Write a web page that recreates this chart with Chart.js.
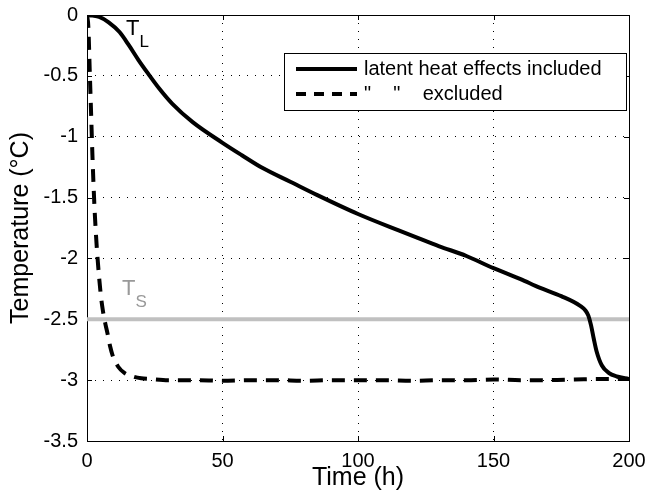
<!DOCTYPE html>
<html>
<head>
<meta charset="utf-8">
<script src="https://cdn.jsdelivr.net/npm/chart.js@4.4.0/dist/chart.umd.min.js"></script>
<style>
body { margin: 0; background: #fff; }
</style>
</head>
<body>
<canvas id="chart" width="646" height="502"></canvas>
<script>
// time (h) and temperature (°C)
var timeIncluded = [0, 2, 4.5, 8, 12, 15.5, 19, 22.5, 26.5, 31.5, 39, 50, 57, 65, 75, 85, 100, 115, 130, 140, 150, 160, 167, 175, 182, 184, 185, 186, 187, 188, 190, 192.5, 195.5, 200];
var tempIncluded = [0, -0.005, -0.016, -0.06, -0.14, -0.25, -0.37, -0.48, -0.6, -0.73, -0.88, -1.05, -1.15, -1.26, -1.37, -1.48, -1.635, -1.77, -1.9, -1.98, -2.08, -2.17, -2.24, -2.31, -2.39, -2.43, -2.47, -2.55, -2.66, -2.76, -2.88, -2.94, -2.97, -2.99];

var timeExcluded = [0, 0.5, 1, 1.5, 2, 2.7, 3.3, 3.9, 5, 5.8, 6.7, 7.6, 8.5, 9.5, 11.5, 13.8, 17, 20, 23, 30, 40, 50, 60, 70, 80, 90, 100, 110, 120, 130, 140, 150, 160, 170, 180, 190, 200];
var tempExcluded = [0, -0.1, -0.45, -0.8, -1.15, -1.55, -1.8, -2.0, -2.28, -2.42, -2.53, -2.62, -2.72, -2.8, -2.89, -2.94, -2.97, -2.985, -2.99, -3.0, -3.0, -3.005, -3.0, -3.0, -3.005, -3.0, -3.0, -3.0, -3.005, -3.0, -3.0, -2.995, -3.0, -3.0, -2.995, -2.99, -2.99];

var timeSolidus = [0, 200];
var tempSolidus = [-2.5, -2.5];

var xTicks = [0, 50, 100, 150, 200];
var yTicks = [0, -0.5, -1, -1.5, -2, -2.5, -3, -3.5];

var seriesLabels = ['latent heat effects included', '"    "    excluded'];

// text marks: T_L and T_S, placed in data units
var noteText = ['T', 'T'];
var noteSub = ['L', 'S'];
var noteX = [14.4, 12.9];
var noteY = [-0.165, -2.3];
var noteColor = ['#000', '#999'];

function pts(xs, ys) {
    var out = [];
    for (let i = 0; i < xs.length; i++) {
        out.push({x: xs[i], y: ys[i]});
    }
    return out;
}

var font = '"Liberation Sans", Arial, sans-serif';

// box around the plot area plus the small inward ticks
var frame = {
    id: 'frame',
    beforeDatasetsDraw(chart) {
        var ctx = chart.ctx;
        var a = chart.chartArea;
        var xs = chart.scales.x, ys = chart.scales.y;
        ctx.save();
        ctx.strokeStyle = '#000';
        ctx.lineWidth = 1;
        ctx.strokeRect(Math.round(a.left) + 0.5, Math.round(a.top) + 0.5, Math.round(a.right - a.left), Math.round(a.bottom - a.top));
        ctx.beginPath();
        xTicks.forEach(function (v) {
            var px = Math.round(xs.getPixelForValue(v)) + 0.5;
            ctx.moveTo(px, a.bottom); ctx.lineTo(px, a.bottom - 5);
            ctx.moveTo(px, a.top); ctx.lineTo(px, a.top + 5);
        });
        yTicks.forEach(function (v) {
            var py = Math.round(ys.getPixelForValue(v)) + 0.5;
            ctx.moveTo(a.left, py); ctx.lineTo(a.left + 5, py);
            ctx.moveTo(a.right, py); ctx.lineTo(a.right - 5, py);
        });
        ctx.stroke();
        ctx.restore();
    },
    afterDatasetsDraw(chart) {
        var ctx = chart.ctx;
        var xs = chart.scales.x, ys = chart.scales.y;
        ctx.save();
        ctx.textBaseline = 'alphabetic';
        ctx.textAlign = 'left';
        for (let i = 0; i < noteText.length; i++) {
            var px = xs.getPixelForValue(noteX[i]);
            var py = ys.getPixelForValue(noteY[i]);
            ctx.fillStyle = noteColor[i];
            ctx.font = '22px ' + font;
            ctx.fillText(noteText[i], px, py);
            var w = ctx.measureText(noteText[i]).width;
            ctx.font = '17px ' + font;
            ctx.fillText(noteSub[i], px + w, py + 12);
        }
        ctx.restore();
    }
};

// boxed legend in the upper right of the axes
var legendBox = {
    id: 'legendBox',
    afterDraw(chart) {
        var ctx = chart.ctx;
        var a = chart.chartArea;
        var items = chart.data.datasets.filter(function (d) { return d.inLegend; });
        var right = a.right - 3, top = a.top + 38;
        var w = 342, h = 57;
        var left = right - w;
        ctx.save();
        ctx.fillStyle = '#fff';
        ctx.fillRect(left, top, w, h);
        ctx.strokeStyle = '#000';
        ctx.lineWidth = 1;
        ctx.strokeRect(Math.round(left) + 0.5, Math.round(top) + 0.5, w, h);
        ctx.font = '20px ' + font;
        ctx.textBaseline = 'middle';
        items.forEach(function (d, i) {
            var cy = top + 16 + i * 25;
            ctx.strokeStyle = d.borderColor;
            ctx.lineWidth = d.borderWidth;
            ctx.setLineDash(d.borderDash ? [10, 8] : []);
            ctx.beginPath();
            ctx.moveTo(left + 12, cy);
            ctx.lineTo(left + 73, cy);
            ctx.stroke();
            ctx.setLineDash([]);
            ctx.fillStyle = '#000';
            ctx.fillText(d.label, left + 80, cy);
        });
        ctx.restore();
    }
};

new Chart(document.getElementById('chart'), {
    type: 'line',
    data: {
        datasets: [
            {
                label: seriesLabels[0],
                data: pts(timeIncluded, tempIncluded),
                borderColor: '#000',
                borderWidth: 4,
                pointRadius: 0,
                cubicInterpolationMode: 'monotone',
                fill: false,
                inLegend: true
            },
            {
                label: seriesLabels[1],
                data: pts(timeExcluded, tempExcluded),
                borderColor: '#000',
                borderWidth: 4,
                borderDash: [13, 9],
                pointRadius: 0,
                cubicInterpolationMode: 'monotone',
                fill: false,
                inLegend: true
            },
            {
                label: 'TS',
                data: pts(timeSolidus, tempSolidus),
                borderColor: '#c0c0c0',
                borderWidth: 4,
                pointRadius: 0,
                fill: false,
                inLegend: false
            }
        ]
    },
    options: {
        responsive: false,
        animation: false,
        layout: { padding: { left: 0, right: 17, top: 15, bottom: 0 } },
        plugins: {
            legend: { display: false },
            tooltip: { enabled: false }
        },
        scales: {
            x: {
                type: 'linear',
                min: 0,
                max: 200,
                afterFit: function (scale) {
                    scale.height = 61;
                    scale.paddingLeft = 0;
                    scale.paddingRight = 0;
                },
                afterBuildTicks: function (scale) {
                    scale.ticks = xTicks.map(function (v) { return {value: v}; });
                },
                ticks: { color: '#000', padding: 8, font: { family: font, size: 20 }, maxRotation: 0 },
                grid: { color: '#000', lineWidth: 1, drawTicks: false },
                border: { display: false, dash: [1, 7] },
                title: { display: true, text: 'Time (h)', color: '#000', font: { family: font, size: 25 }, padding: { top: 0, bottom: 9 } }
            },
            y: {
                min: -3.5,
                max: 0,
                afterFit: function (scale) {
                    scale.width = 87;
                    scale.paddingTop = 0;
                    scale.paddingBottom = 0;
                },
                afterBuildTicks: function (scale) {
                    scale.ticks = yTicks.map(function (v) { return {value: v}; });
                },
                ticks: {
                    color: '#000',
                    padding: 9,
                    font: { family: font, size: 20 },
                    callback: function (v) { return String(v); }
                },
                grid: { color: '#000', lineWidth: 1, drawTicks: false },
                border: { display: false, dash: [1, 7] },
                title: { display: true, text: 'Temperature (°C)', color: '#000', font: { family: font, size: 25 }, padding: { top: 6, bottom: 0 } }
            }
        }
    },
    plugins: [frame, legendBox]
});
</script>
</body>
</html>
